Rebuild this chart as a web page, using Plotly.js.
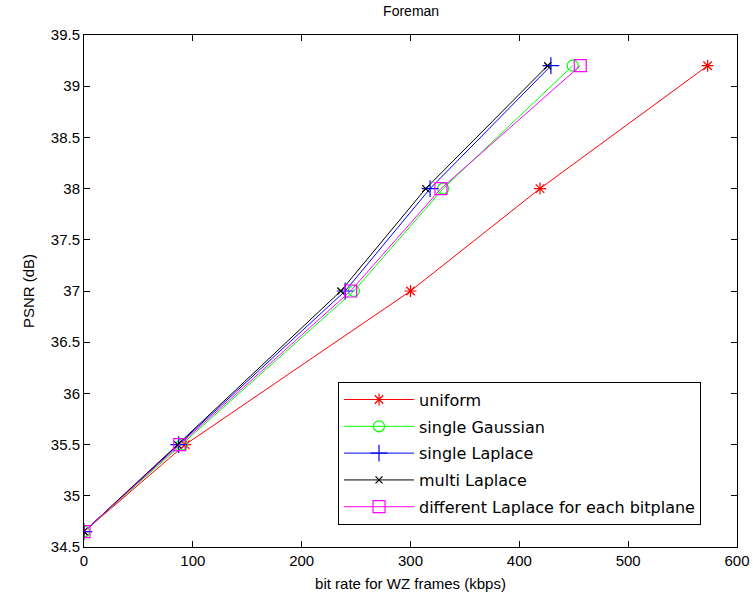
<!DOCTYPE html>
<html>
<head>
<meta charset="utf-8">
<script src="https://cdn.plot.ly/plotly-3.0.1.min.js"></script>
<style>html,body{margin:0;padding:0;background:#fff;}#chart{width:753px;height:605px;}</style>
</head>
<body>
<div id="chart"></div>
<script>
const seriesNames = ["uniform", "single Gaussian", "single Laplace", "multi Laplace", "different Laplace for each bitplane"];
const psnr = [34.65, 35.5, 37.0, 38.0, 39.2];
const rateUniform = [0, 93, 300, 419, 573];
const rateGaussian = [0, 90, 248, 330, 449];
const rateSingleLaplace = [0, 87, 240, 318, 429];
const rateMultiLaplace = [0, 86, 236, 314, 426];
const rateDifferent = [0, 88, 245, 328, 456];
const xTicks = [0, 100, 200, 300, 400, 500, 600];
const yTicks = [34.5, 35, 35.5, 36, 36.5, 37, 37.5, 38, 38.5, 39, 39.5];

const rates = [rateUniform, rateGaussian, rateSingleLaplace, rateMultiLaplace, rateDifferent];
const colors = ["#ff0000", "#00ff00", "#0000ff", "#000000", "#ff00ff"];
const symbols = ["asterisk-open", "circle-open", "cross-thin-open", "x-thin-open", "square-open"];
const sizes = [10, 11, 12, 7, 12];

const traces = seriesNames.map((n, i) => ({
  x: rates[i], y: psnr, name: n, type: "scatter", mode: "lines+markers",
  legendgroup: "g" + i,
  line: {color: colors[i], width: 1},
  marker: {symbol: symbols[i], size: sizes[i], color: colors[i], line: {color: colors[i], width: 1.2}}
}));

const fam = "Liberation Sans, Arial, sans-serif";
const font = {family: fam, size: 15, color: "#000"};
const axisCommon = {
  showline: true, mirror: "ticks", linecolor: "#000", linewidth: 1,
  ticks: "inside", ticklen: 6, tickcolor: "#000", showgrid: false, zeroline: false,
  tickfont: font
};
const layout = {
  width: 753, height: 605,
  margin: {l: 84, r: 16, t: 35, b: 58},
  paper_bgcolor: "#fff", plot_bgcolor: "#fff",
  font: font,
  title: {text: "Foreman", font: {family: fam, size: 14, color: "#000"}, x: 0.546, xanchor: "center", y: 0.99, yanchor: "top"},
  xaxis: Object.assign({}, axisCommon, {range: [0, 600], tickvals: xTicks, ticktext: xTicks.map(String),
    title: {text: "bit rate for WZ frames (kbps)", font: font, standoff: 10}}),
  yaxis: Object.assign({}, axisCommon, {range: [34.5, 39.5], tickvals: yTicks, ticktext: yTicks.map(String),
    title: {text: "PSNR (dB)", font: font, standoff: 12}}),
  legend: {x: 0.389, y: 0.323, xanchor: "left", yanchor: "top", bordercolor: "#000", borderwidth: 1,
    bgcolor: "#fff", font: {family: "DejaVu Sans, sans-serif", size: 16, color: "#000"}, tracegroupgap: 3,
    itemwidth: 70}
};
Plotly.newPlot("chart", traces, layout, {displayModeBar: false, staticPlot: true});
</script>
</body>
</html>
